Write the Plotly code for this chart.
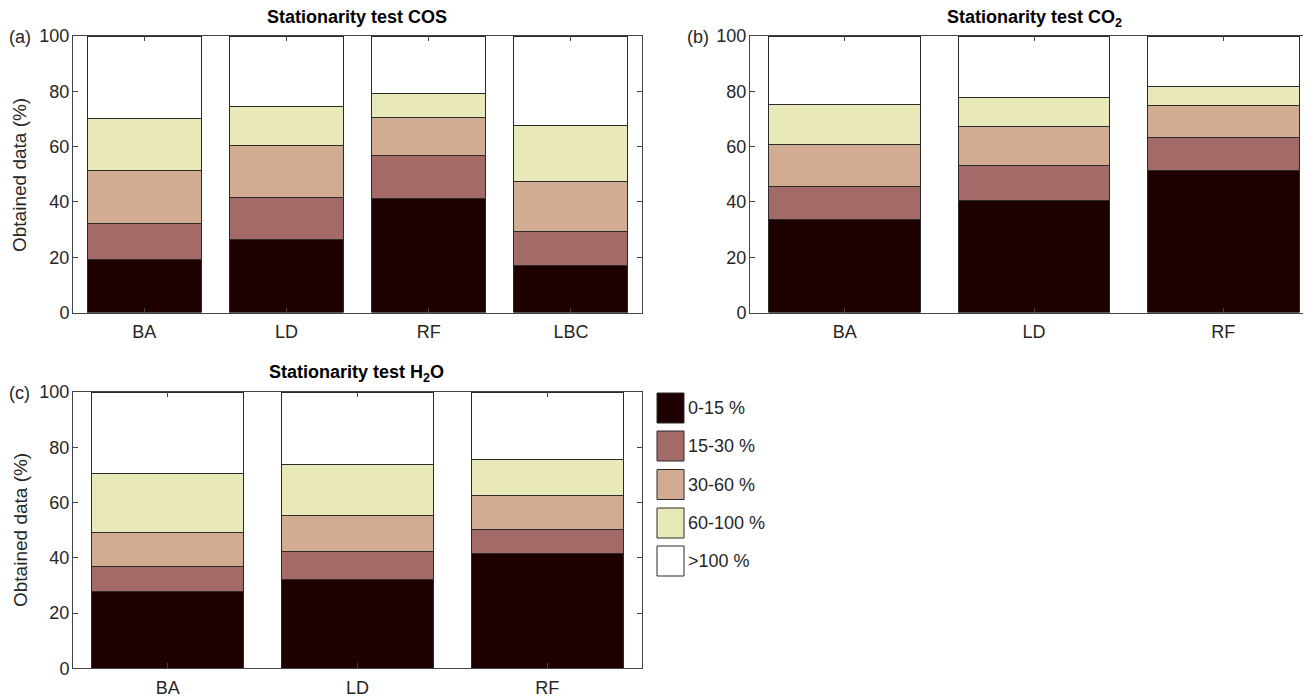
import plotly.graph_objects as go

W, H = 1311, 696
OFF = 8  # page body margin offset of the figure div

bins = ["0-15 %", "15-30 %", "30-60 %", "60-100 %", ">100 %"]
colors = ["#1e0000", "#a36a68", "#d2ac91", "#e9e8b8", "#ffffff"]

# Panel (a) COS
cats_a = ["BA", "LD", "RF", "LBC"]
cos_0_15 = [19.1, 26.3, 41.4, 17.1]
cos_15_30 = [13.0, 15.3, 15.3, 12.1]
cos_30_60 = [19.3, 18.7, 13.9, 18.0]
cos_60_100 = [18.7, 14.1, 8.5, 20.4]
cos_gt100 = [29.9, 25.6, 20.9, 32.4]

# Panel (b) CO2
cats_b = ["BA", "LD", "RF"]
co2_0_15 = [33.5, 40.5, 51.5]
co2_15_30 = [12.2, 12.7, 11.9]
co2_30_60 = [14.9, 14.2, 11.6]
co2_60_100 = [14.8, 10.5, 6.8]
co2_gt100 = [24.6, 22.1, 18.2]

# Panel (c) H2O
cats_c = ["BA", "LD", "RF"]
h2o_0_15 = [27.9, 32.2, 41.4]
h2o_15_30 = [9.1, 10.1, 8.9]
h2o_30_60 = [12.0, 13.1, 12.2]
h2o_60_100 = [21.4, 18.4, 13.1]
h2o_gt100 = [29.6, 26.2, 24.4]

yticks = [0, 20, 40, 60, 80, 100]

panels = [
    ("x", "y", cats_a, [cos_0_15, cos_15_30, cos_30_60, cos_60_100, cos_gt100]),
    ("x2", "y2", cats_b, [co2_0_15, co2_15_30, co2_30_60, co2_60_100, co2_gt100]),
    ("x3", "y3", cats_c, [h2o_0_15, h2o_15_30, h2o_30_60, h2o_60_100, h2o_gt100]),
]

fig = go.Figure()
for xa, ya, cats, series in panels:
    for name, col, vals in zip(bins, colors, series):
        fig.add_trace(go.Bar(
            x=cats, y=vals, name=name, xaxis=xa, yaxis=ya,
            marker=dict(color=col, line=dict(color="#2b2b2b", width=1)),
            showlegend=False, hoverinfo="x+y+name",
        ))

def px_x(p):
    return (p - OFF) / W

def px_y(p):
    return 1 - (p - OFF) / H

FONT = "Liberation Sans, Arial, sans-serif"
TC = "#262626"

axis_common = dict(
    showline=True, linecolor="#444444", linewidth=1, mirror="ticks",
    ticks="inside", ticklen=5, tickcolor="#444444", showgrid=False,
    zeroline=False, automargin=False,
    tickfont=dict(family=FONT, size=18, color=TC),
)

fig.update_layout(
    width=W, height=H,
    margin=dict(l=0, r=0, t=0, b=0, pad=0, autoexpand=False),
    paper_bgcolor="white", plot_bgcolor="white",
    barmode="stack", bargap=0.2,
    showlegend=False,
    xaxis=dict(domain=[px_x(73), px_x(642)], range=[-0.5, 3.5], anchor="y",
               categoryorder="array", categoryarray=cats_a, ticklabelstandoff=3, **axis_common),
    yaxis=dict(domain=[px_y(312.5), px_y(36)], range=[0, 100], anchor="x",
               tickvals=yticks, ticklabelstandoff=-1, **axis_common),
    xaxis2=dict(domain=[px_x(750), px_x(1318)], range=[-0.5, 2.5], anchor="y2",
                categoryorder="array", categoryarray=cats_b, ticklabelstandoff=3, **axis_common),
    yaxis2=dict(domain=[px_y(312.5), px_y(36)], range=[0, 100], anchor="x2",
                tickvals=yticks, ticklabelstandoff=-1, **axis_common),
    xaxis3=dict(domain=[px_x(73), px_x(642)], range=[-0.5, 2.5], anchor="y3",
                categoryorder="array", categoryarray=cats_c, ticklabelstandoff=3, **axis_common),
    yaxis3=dict(domain=[px_y(668.3), px_y(392)], range=[0, 100], anchor="x3",
                tickvals=yticks, ticklabelstandoff=-1, **axis_common),
)

annotations = []
# titles
titles = [
    ("<b>Stationarity test COS</b>", 357, 17),
    ("<b>Stationarity test CO<sub>2</sub></b>", 1034, 18),
    ("<b>Stationarity test H<sub>2</sub>O</b>", 357, 373),
]
for t, cx, cy in titles:
    annotations.append(dict(text=t, x=px_x(cx), y=px_y(cy), xref="paper", yref="paper",
                            showarrow=False, xanchor="center", yanchor="middle",
                            font=dict(family=FONT, size=18, color="black")))
# panel letters
for t, cx, cy in [("(a)", 7, 37), ("(b)", 685, 37), ("(c)", 7, 393)]:
    annotations.append(dict(text=t, x=px_x(cx), y=px_y(cy), xref="paper", yref="paper",
                            showarrow=False, xanchor="left", yanchor="middle",
                            font=dict(family=FONT, size=18, color=TC)))
# y-axis titles
for cy in [175, 530]:
    annotations.append(dict(text="Obtained data (%)", x=px_x(20), y=px_y(cy),
                            xref="paper", yref="paper", showarrow=False, textangle=-90,
                            xanchor="center", yanchor="middle",
                            font=dict(family=FONT, size=19, color=TC)))

# legend (drawn manually to match large swatches)
shapes = []
box_tops = [393, 431, 469.5, 508, 546]
for name, col, top in zip(bins, colors, box_tops):
    shapes.append(dict(type="rect", xref="paper", yref="paper",
                       x0=px_x(657), x1=px_x(684), y0=px_y(top + 30), y1=px_y(top),
                       fillcolor=col, line=dict(color="#2b2b2b", width=1)))
    annotations.append(dict(text=name, x=px_x(686), y=px_y(top + 15), xref="paper", yref="paper",
                            showarrow=False, xanchor="left", yanchor="middle",
                            font=dict(family=FONT, size=18, color=TC)))

fig.update_layout(annotations=annotations, shapes=shapes)

fig.write_html("out.html")
